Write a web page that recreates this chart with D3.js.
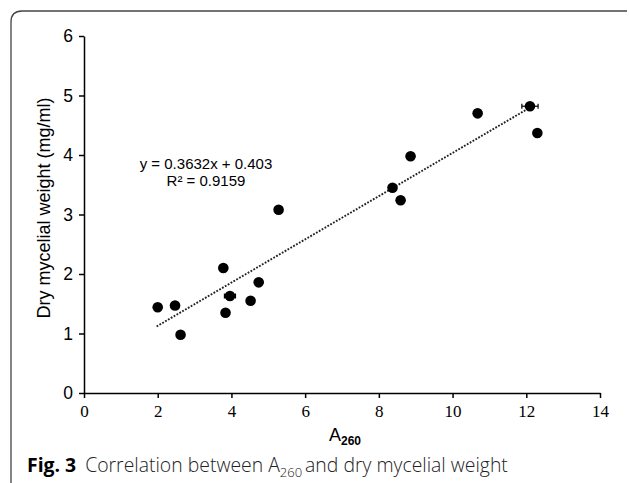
<!DOCTYPE html>
<html><head><meta charset="utf-8">
<script src="https://cdn.jsdelivr.net/npm/d3@7/dist/d3.min.js"></script>
<style>body{margin:0;background:#fff}svg{display:block}</style>
</head><body><svg id="c" width="629" height="483"></svg>
<script>
const xValues = [2.0, 2.47, 2.62, 3.78, 3.84, 3.96, 4.52, 4.74, 5.28, 8.37, 8.59, 8.86, 10.68, 12.1, 12.3];
const yValues = [1.44, 1.47, 0.98, 2.10, 1.35, 1.63, 1.55, 1.86, 3.08, 3.45, 3.24, 3.98, 4.70, 4.82, 4.37];
const xErr    = [0, 0, 0, 0, 0, 0.15, 0, 0, 0, 0, 0, 0, 0, 0.22, 0];
const xTicks = [0, 2, 4, 6, 8, 10, 12, 14];
const yTicks = [0, 1, 2, 3, 4, 5, 6];
const slope = 0.3632, intercept = 0.403, trendRange = [1.97, 12.1];
const eqText = "y = 0.3632x + 0.403", r2Text = "R² = 0.9159";

const svg = d3.select("#c");
// frame
svg.append("path").attr("d","M11,483 L11,22 Q11,11 22,11 L627,11")
  .attr("fill","none").attr("stroke","#444").attr("stroke-width",1.3);

const x = d3.scaleLinear().domain([0,14]).range([84,600]);
const y = d3.scaleLinear().domain([0,6]).range([393,36]);

const gx = svg.append("g").attr("transform","translate(0,393)")
  .call(d3.axisBottom(x).tickValues(xTicks).tickFormat(d3.format("d")).tickSize(5).tickSizeOuter(0).tickPadding(7));
gx.selectAll("text").attr("font-family","'Liberation Serif', serif").attr("font-size",17).attr("fill","#000");
const gy = svg.append("g").attr("transform","translate(84,0)")
  .call(d3.axisLeft(y).tickValues(yTicks).tickFormat(d3.format("d")).tickSize(5).tickSizeOuter(0).tickPadding(6));
gy.selectAll("text").attr("font-family","'Liberation Sans', Arial, sans-serif").attr("font-size",17.5).attr("fill","#000");
svg.selectAll(".domain, .tick line").attr("stroke","#000").attr("stroke-width",1.5);

// trend line
svg.append("line")
  .attr("x1",x(trendRange[0])).attr("y1",y(slope*trendRange[0]+intercept))
  .attr("x2",x(trendRange[1])).attr("y2",y(slope*trendRange[1]+intercept))
  .attr("stroke","#222").attr("stroke-width",1.9).attr("stroke-dasharray","1.8,1.5");

const pts = xValues.map((v,i)=>({x:v,y:yValues[i],e:xErr[i]}));
// error bars
const eb = svg.append("g").selectAll("g").data(pts.filter(d=>d.e>0)).join("g");
eb.append("line").attr("x1",d=>x(d.x-d.e)).attr("x2",d=>x(d.x+d.e))
  .attr("y1",d=>y(d.y)).attr("y2",d=>y(d.y)).attr("stroke","#000").attr("stroke-width",1.2);
eb.append("line").attr("x1",d=>x(d.x-d.e)).attr("x2",d=>x(d.x-d.e))
  .attr("y1",d=>y(d.y)-2.5).attr("y2",d=>y(d.y)+2.5).attr("stroke","#000").attr("stroke-width",1.2);
eb.append("line").attr("x1",d=>x(d.x+d.e)).attr("x2",d=>x(d.x+d.e))
  .attr("y1",d=>y(d.y)-2.5).attr("y2",d=>y(d.y)+2.5).attr("stroke","#000").attr("stroke-width",1.2);

svg.append("g").selectAll("circle").data(pts).join("circle")
  .attr("cx",d=>x(d.x)).attr("cy",d=>y(d.y)).attr("r",5.3).attr("fill","#000");

// equation
svg.append("text").attr("x",206).attr("y",169).attr("text-anchor","middle")
  .attr("font-family","'Liberation Sans', Arial, sans-serif").attr("font-size",15).text(eqText);
svg.append("text").attr("x",206).attr("y",186).attr("text-anchor","middle")
  .attr("font-family","'Liberation Sans', Arial, sans-serif").attr("font-size",15).text(r2Text);

// axis titles
svg.append("text").attr("transform","translate(50,208) rotate(-90)").attr("text-anchor","middle")
  .attr("font-family","'Liberation Sans', Arial, sans-serif").attr("font-size",18).text("Dry mycelial weight (mg/ml)");
const xt = svg.append("text").attr("x",345).attr("y",441).attr("text-anchor","middle")
  .attr("font-family","'Liberation Sans', Arial, sans-serif").attr("font-size",18);
xt.append("tspan").text("A");
xt.append("tspan").attr("font-size",12).attr("font-weight","bold").attr("dy",3.5).text("260");

// caption
const cap = svg.append("text").attr("x",27).attr("y",472)
  .attr("font-family","'Open Sans', 'Noto Sans', sans-serif").attr("font-size",19.4).attr("fill","#222");
cap.append("tspan").attr("font-weight","bold").attr("fill","#000").text("Fig. 3");
cap.append("tspan").attr("dx",9).attr("font-weight",300).text("Correlation between A");
cap.append("tspan").attr("font-size",13).attr("dy",5).attr("font-weight",300).text("260");
cap.append("tspan").attr("dy",-5).attr("dx",3).attr("font-weight",300).text("and dry mycelial weight");
</script></body></html>
